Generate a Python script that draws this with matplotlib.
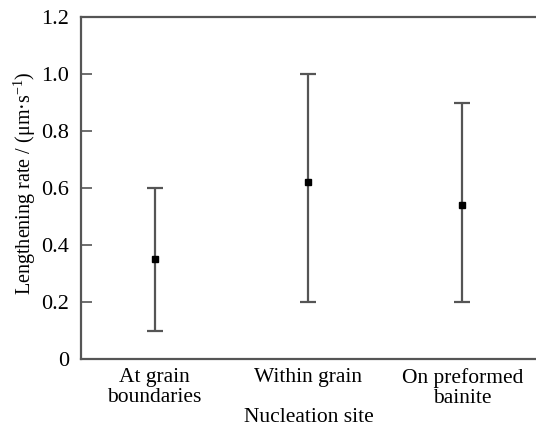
import numpy as np
import matplotlib
matplotlib.use('Agg')
import matplotlib.pyplot as plt

plt.rcParams['font.family'] = ['Liberation Serif', 'DejaVu Serif']
plt.rcParams['mathtext.fontset'] = 'custom'
plt.rcParams['mathtext.rm'] = 'Liberation Serif'
plt.rcParams['mathtext.it'] = 'Liberation Serif:italic'

# Data
sites = ['At grain\nboundaries', 'Within grain', 'On preformed\nbainite']
rate_mean = [0.35, 0.62, 0.54]
rate_low = [0.10, 0.20, 0.20]
rate_high = [0.60, 1.00, 0.90]

x = np.arange(1, len(sites) + 1)
mean = np.array(rate_mean)
yerr = [mean - np.array(rate_low), np.array(rate_high) - mean]

fig = plt.figure(figsize=(5.36, 4.30), dpi=100)
ax = fig.add_axes([0.151, 0.165, 0.849, 0.795])

ax.errorbar(x, mean, yerr=yerr, fmt='s', color='black', markersize=5,
            ecolor='#555555', elinewidth=1.6, capsize=5.5, capthick=1.6)

ax.set_xlim(0.52, 3.48)
ax.set_ylim(0, 1.2)
ax.set_yticks([0, 0.2, 0.4, 0.6, 0.8, 1.0, 1.2])
ax.set_yticklabels(['0', '0.2', '0.4', '0.6', '0.8', '1.0', '1.2'])
ax.set_xticks(x)
ax.set_xticklabels(sites)

for s in ['left', 'bottom', 'top']:
    ax.spines[s].set_color('#555555')
    ax.spines[s].set_linewidth(1.6)
ax.spines['right'].set_visible(False)

ax.tick_params(axis='y', direction='in', length=8, width=1.2, color='#555555',
               labelsize=16, pad=8.5)
ax.tick_params(axis='x', length=0, labelsize=15.5, pad=6.5)
for t in ax.get_xticklabels():
    t.set_linespacing(1.1)

ax.set_xlabel('Nucleation site', fontsize=15.5, labelpad=0)
ax.set_ylabel('Lengthening rate / (μm·s$^{-1}$)', fontsize=14.5)
ax.yaxis.set_label_coords(-0.094, 0.515)

fig.savefig('out.png', dpi=100)
